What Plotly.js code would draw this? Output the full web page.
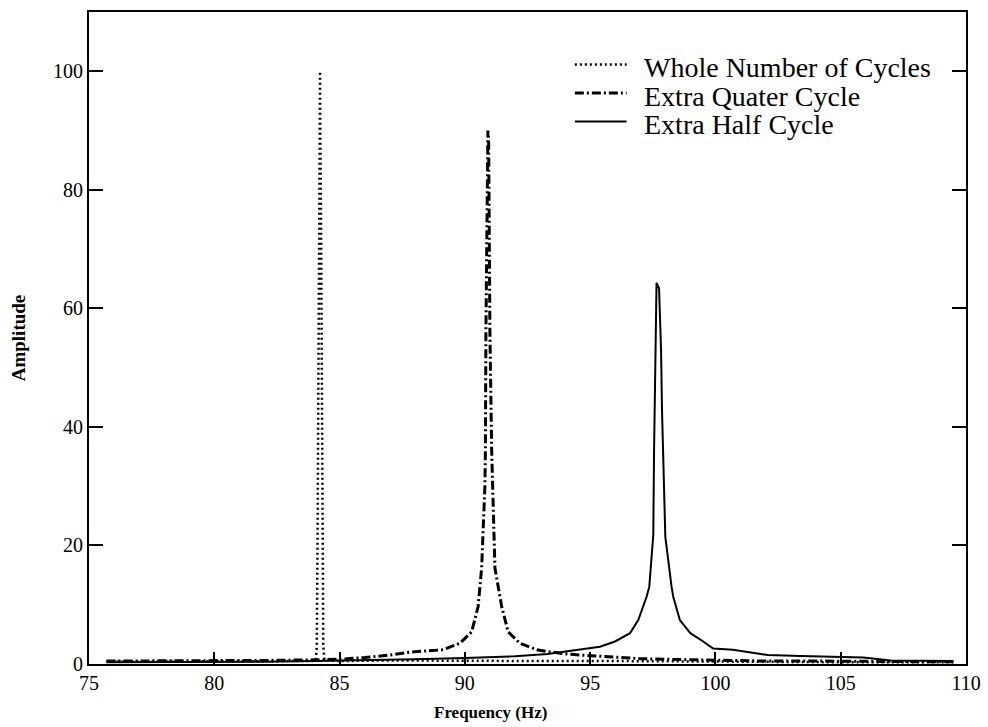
<!DOCTYPE html>
<html>
<head>
<meta charset="utf-8">
<script src="https://cdn.plot.ly/plotly-3.0.1.min.js"></script>
<style>html,body{margin:0;padding:0;background:#fff;}#chart{width:988px;height:727px;}</style>
</head>
<body>
<div id="chart"></div>
<script>
// Series names
const seriesNames = ["Whole Number of Cycles", "Extra Quater Cycle", "Extra Half Cycle"];

// Whole Number of Cycles (dotted)
const wholeX = [75.7, 78, 80, 82, 83.5, 84.0, 84.05, 84.09, 84.12, 84.15, 84.17, 84.19, 84.21, 84.22, 84.23, 84.26, 84.28, 84.31, 84.33, 84.35, 84.4, 85, 87, 90, 93, 96, 99, 102, 105, 109.5];
const wholeY = [0.4, 0.4, 0.4, 0.4, 0.4, 0.5, 0.6, 3, 20, 36, 60, 75, 90, 100, 90, 75, 60, 36, 20, 3, 0.6, 0.5, 0.6, 0.5, 0.5, 0.5, 0.4, 0.4, 0.3, 0.3];

// Extra Quater Cycle (dash-dot)
const quarterX = [75.7, 78, 80, 82, 84, 85, 86, 87, 87.8, 88.6, 89.13, 89.8, 90.27, 90.53, 90.67, 90.8, 90.82, 90.84, 90.9, 90.92, 90.95, 91.0, 91.07, 91.2, 91.47, 91.73, 92.2, 92.87, 93.3, 94, 95, 96, 97, 98, 100, 102, 104, 106, 108, 109.5];
const quarterY = [0.5, 0.5, 0.5, 0.6, 0.7, 0.8, 1.1, 1.5, 2.0, 2.2, 2.4, 3.5, 5.4, 9.7, 16.2, 30, 36, 56, 88, 90, 88, 56, 36, 16.2, 9.7, 5.4, 3.5, 2.4, 2.1, 1.7, 1.4, 1.1, 0.9, 0.8, 0.6, 0.5, 0.5, 0.4, 0.4, 0.4];

// Extra Half Cycle (solid)
const halfX = [75.7, 78, 80, 82, 84, 86, 88, 90, 92, 93.3, 94.6, 95.39, 95.99, 96.59, 96.92, 97.25, 97.36, 97.52, 97.55, 97.61, 97.65, 97.75, 97.83, 97.87, 97.93, 98.0, 98.25, 98.32, 98.58, 99.0, 99.51, 99.91, 100.7, 101.2, 102.1, 103.4, 105.9, 107, 109.5];
const halfY = [0.3, 0.3, 0.4, 0.4, 0.5, 0.6, 0.8, 1.0, 1.3, 1.7, 2.4, 2.9, 3.8, 5.2, 7.4, 11.3, 13, 21.8, 35.8, 50.1, 64.3, 63.4, 53, 42.5, 31.9, 21.5, 13, 11.3, 7.4, 5.2, 3.8, 2.6, 2.4, 2.1, 1.5, 1.35, 1.1, 0.6, 0.5];

const xTicks = [75, 80, 85, 90, 95, 100, 105, 110];
const yTicks = [0, 20, 40, 60, 80, 100];

const serif = "Liberation Serif";
const dashes = ["2px,3px", "9px,3px,2px,3px", "solid"];
const widths = [2.5, 3, 2];

const traces = [
  {x: wholeX, y: wholeY},
  {x: quarterX, y: quarterY},
  {x: halfX, y: halfY}
].map((t, i) => ({
  x: t.x, y: t.y, type: 'scatter', mode: 'lines', name: seriesNames[i],
  line: {color: '#000', width: widths[i], dash: dashes[i]},
  showlegend: false, hoverinfo: 'skip'
}));

// Manual legend (paper coordinates)
const legTop = 0.9195, legStep = 0.0437;
const shapes = [], annotations = [];
seriesNames.forEach((n, i) => {
  const yy = legTop - i * legStep;
  shapes.push({type: 'line', xref: 'paper', yref: 'paper', x0: 0.554, x1: 0.613, y0: yy, y1: yy,
    line: {color: '#000', width: widths[i], dash: dashes[i]}});
  annotations.push({xref: 'paper', yref: 'paper', x: 0.631, y: yy - 0.005, xanchor: 'left', yanchor: 'middle',
    text: n, showarrow: false, font: {family: serif, size: 28, color: '#000'}});
});
// x-axis title placed like the reference (slightly left of centre)
annotations.push({xref: 'paper', yref: 'paper', x: 0.458, y: -0.075, xanchor: 'center', yanchor: 'middle',
  text: 'Frequency (Hz)', showarrow: false, font: {family: serif, size: 17, color: '#000', weight: 'bold'}});

const layout = {
  width: 988, height: 727,
  margin: {l: 89, r: 22, t: 12, b: 63},
  paper_bgcolor: '#fff', plot_bgcolor: '#fff',
  font: {family: serif, color: '#000'},
  xaxis: {
    range: [75, 110], tickvals: xTicks, ticktext: xTicks.map(String),
    ticks: 'inside', ticklen: 12, tickwidth: 2, tickcolor: '#000',
    showline: true, linecolor: '#000', linewidth: 2, mirror: true,
    showgrid: false, zeroline: false,
    tickfont: {family: serif, size: 20, color: '#000'}
  },
  yaxis: {
    range: [0, 110], tickvals: yTicks, ticktext: yTicks.map(String),
    ticks: 'inside', ticklen: 14, tickwidth: 2, tickcolor: '#000',
    showline: true, linecolor: '#000', linewidth: 2, mirror: 'ticks',
    showgrid: false, zeroline: false,
    tickfont: {family: serif, size: 20, color: '#000'},
    title: {text: 'Amplitude', font: {family: serif, size: 19, color: '#000', weight: 'bold'}, standoff: 22}
  },
  shapes: shapes,
  annotations: annotations,
  showlegend: false
};

Plotly.newPlot('chart', traces, layout, {staticPlot: true, displayModeBar: false});
</script>
</body>
</html>
